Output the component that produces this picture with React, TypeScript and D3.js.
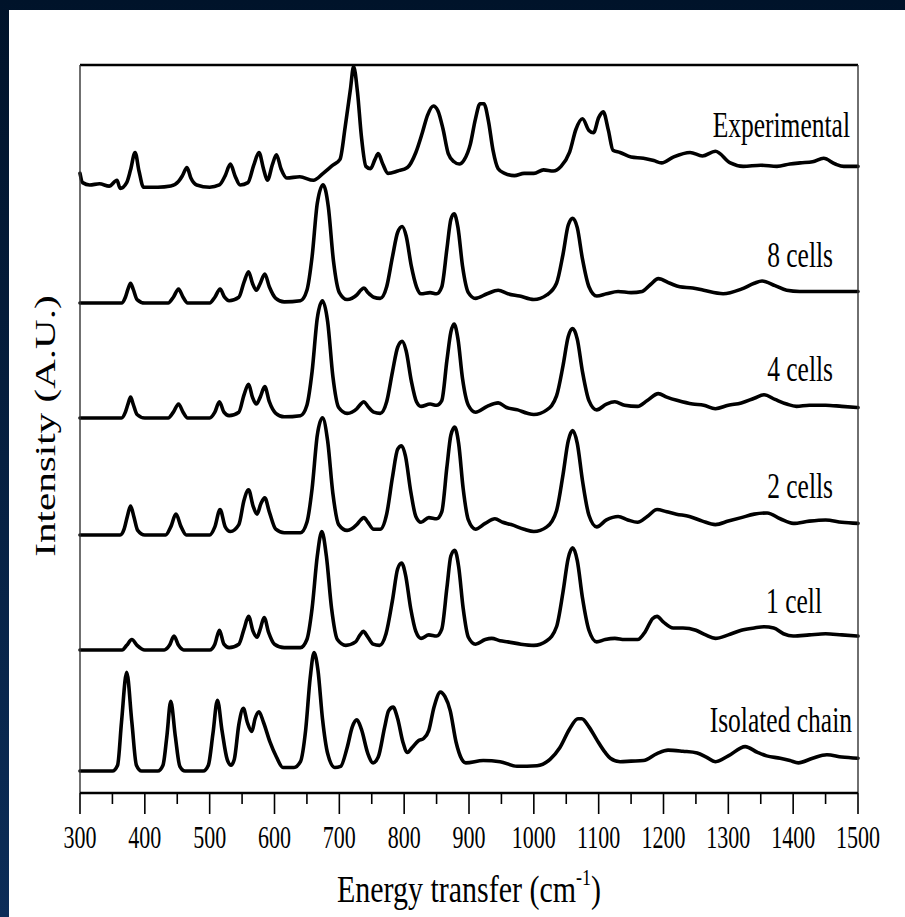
import React from 'react';
import * as d3 from 'd3';

type Pt = [number, number];

const xTickValues = [300, 400, 500, 600, 700, 800, 900, 1000, 1100, 1200, 1300, 1400, 1500];
const xMinorTicks = [350, 450, 550, 650, 750, 850, 950, 1050, 1150, 1250, 1350, 1450];

const seriesLabels = ['Isolated chain', '1 cell', '2 cells', '4 cells', '8 cells', 'Experimental'];
const seriesOffsets = [0, 1.043, 2.034, 3.043, 4.034, 5.052];

const isolatedChain: Pt[] = [
  [300,0],[350,0],[358,0.05],[364,0.42],[372,0.85],[380,0.42],[387,0.05],[395,0],[420,0],[428,0.05],[434,0.3],[440,0.6],[447,0.3],[454,0.04],[462,0],[490,0],[498,0.05],[505,0.32],[512,0.61],[519,0.35],[527,0.1],[533,0.05],[538,0.1],[545,0.4],[552,0.54],[558,0.42],[565,0.34],[570,0.45],[576,0.51],[583,0.42],[593,0.25],[603,0.12],[613,0.03],[630,0.03],[640,0.08],[648,0.35],[655,0.8],[661,1.02],[667,0.87],[674,0.45],[682,0.15],[693,0.03],[702,0.04],[712,0.2],[720,0.38],[727,0.44],[734,0.36],[744,0.15],[752,0.07],[760,0.12],[770,0.38],[776,0.52],[783,0.55],[790,0.45],[798,0.25],[805,0.16],[812,0.2],[822,0.26],[830,0.28],[838,0.35],[846,0.55],[856,0.68],[863,0.64],[871,0.52],[880,0.25],[889,0.1],[895,0.07],[922,0.09],[948,0.08],[974,0.04],[1005,0.045],[1025,0.1],[1040,0.2],[1055,0.36],[1068,0.45],[1074,0.45],[1085,0.38],[1097,0.27],[1110,0.16],[1118,0.11],[1133,0.08],[1150,0.085],[1169,0.09],[1190,0.15],[1207,0.18],[1230,0.17],[1252,0.155],[1266,0.12],[1280,0.08],[1300,0.13],[1326,0.21],[1345,0.16],[1359,0.13],[1380,0.11],[1395,0.09],[1408,0.07],[1430,0.11],[1452,0.14],[1475,0.12],[1500,0.11]
];

const oneCell: Pt[] = [
  [300,0],[365,0],[372,0.04],[380,0.09],[388,0.04],[400,0],[430,0],[438,0.04],[445,0.12],[452,0.04],[460,0],[500,0],[508,0.05],[515,0.17],[522,0.05],[530,0.02],[545,0.05],[553,0.18],[560,0.29],[567,0.16],[573,0.11],[578,0.18],[584,0.28],[591,0.15],[600,0.05],[615,0.02],[640,0.02],[650,0.09],[658,0.36],[666,0.81],[673,1.02],[680,0.81],[688,0.36],[697,0.09],[710,0.04],[725,0.07],[732,0.13],[737,0.16],[743,0.12],[752,0.05],[762,0.04],[772,0.14],[782,0.43],[790,0.7],[796,0.75],[802,0.65],[810,0.36],[818,0.16],[826,0.1],[838,0.13],[850,0.12],[858,0.18],[866,0.54],[872,0.81],[878,0.86],[884,0.72],[891,0.36],[899,0.11],[910,0.05],[925,0.09],[935,0.1],[948,0.08],[960,0.07],[980,0.05],[1000,0.04],[1020,0.08],[1035,0.2],[1045,0.5],[1053,0.79],[1060,0.88],[1067,0.77],[1075,0.45],[1085,0.17],[1097,0.07],[1110,0.09],[1125,0.1],[1140,0.09],[1160,0.09],[1172,0.16],[1183,0.27],[1190,0.29],[1200,0.24],[1215,0.19],[1230,0.19],[1250,0.17],[1265,0.13],[1280,0.1],[1300,0.13],[1320,0.17],[1340,0.19],[1355,0.2],[1370,0.19],[1385,0.14],[1400,0.12],[1425,0.13],[1450,0.14],[1475,0.13],[1500,0.12]
];

const twoCells: Pt[] = [
  [300,0],[362,0],[368,0.05],[373,0.16],[378,0.25],[383,0.16],[389,0.04],[400,0],[432,0],[440,0.07],[448,0.18],[456,0.07],[464,0],[500,0],[508,0.07],[516,0.22],[524,0.07],[532,0.03],[545,0.09],[553,0.3],[560,0.39],[567,0.25],[573,0.18],[579,0.27],[585,0.32],[592,0.2],[602,0.05],[615,0.02],[640,0.02],[650,0.11],[658,0.4],[666,0.86],[674,1.01],[682,0.81],[690,0.36],[699,0.09],[712,0.04],[727,0.09],[733,0.13],[738,0.15],[744,0.11],[753,0.05],[763,0.05],[773,0.18],[782,0.5],[790,0.74],[796,0.77],[802,0.68],[810,0.38],[818,0.16],[826,0.11],[838,0.15],[850,0.14],[858,0.2],[866,0.59],[872,0.86],[878,0.93],[884,0.79],[891,0.4],[899,0.13],[910,0.05],[925,0.1],[940,0.14],[952,0.11],[965,0.09],[985,0.05],[1000,0.03],[1020,0.07],[1035,0.21],[1045,0.52],[1053,0.81],[1060,0.9],[1067,0.79],[1075,0.47],[1085,0.17],[1097,0.07],[1112,0.13],[1130,0.16],[1145,0.13],[1160,0.11],[1175,0.16],[1190,0.22],[1205,0.2],[1220,0.18],[1240,0.16],[1260,0.12],[1280,0.09],[1300,0.12],[1320,0.15],[1340,0.18],[1360,0.19],[1380,0.14],[1400,0.1],[1425,0.12],[1450,0.13],[1475,0.11],[1500,0.1]
];

const fourCells: Pt[] = [
  [300,0],[364,0],[370,0.05],[374,0.12],[378,0.18],[382,0.12],[388,0.03],[400,0],[436,0],[444,0.05],[452,0.12],[459,0.05],[466,0],[500,0],[508,0.05],[515,0.14],[522,0.05],[530,0.02],[545,0.05],[553,0.2],[560,0.29],[566,0.18],[572,0.12],[578,0.18],[585,0.27],[592,0.14],[602,0.04],[615,0.01],[640,0.02],[650,0.11],[658,0.4],[666,0.86],[674,1.01],[682,0.83],[690,0.36],[699,0.09],[712,0.04],[727,0.08],[733,0.12],[738,0.14],[744,0.1],[753,0.05],[763,0.04],[773,0.14],[782,0.4],[790,0.61],[797,0.66],[803,0.58],[811,0.32],[819,0.14],[826,0.1],[840,0.12],[850,0.11],[858,0.15],[866,0.5],[872,0.74],[877,0.81],[883,0.68],[890,0.34],[899,0.11],[910,0.05],[928,0.1],[945,0.13],[958,0.09],[975,0.07],[990,0.04],[1000,0.03],[1020,0.07],[1035,0.19],[1045,0.45],[1053,0.7],[1060,0.77],[1067,0.68],[1075,0.4],[1085,0.15],[1097,0.07],[1112,0.12],[1125,0.14],[1140,0.11],[1160,0.1],[1175,0.15],[1192,0.21],[1205,0.18],[1222,0.15],[1245,0.12],[1262,0.11],[1280,0.08],[1300,0.11],[1320,0.13],[1340,0.17],[1355,0.2],[1372,0.16],[1390,0.12],[1405,0.1],[1425,0.11],[1450,0.11],[1475,0.1],[1500,0.09]
];

const eightCells: Pt[] = [
  [300,0],[364,0],[370,0.05],[374,0.12],[378,0.17],[382,0.12],[388,0.03],[400,0],[436,0],[444,0.05],[452,0.12],[459,0.05],[466,0],[500,0],[508,0.05],[516,0.12],[523,0.05],[530,0.02],[545,0.05],[553,0.18],[560,0.27],[566,0.17],[572,0.11],[578,0.17],[585,0.25],[592,0.14],[602,0.04],[615,0.01],[640,0.02],[650,0.11],[658,0.4],[666,0.86],[675,1.02],[683,0.83],[691,0.36],[700,0.09],[712,0.03],[727,0.07],[733,0.11],[738,0.13],[744,0.09],[753,0.05],[763,0.04],[773,0.14],[782,0.4],[790,0.61],[797,0.66],[803,0.58],[811,0.32],[819,0.14],[826,0.08],[840,0.09],[850,0.08],[858,0.14],[866,0.47],[872,0.72],[877,0.77],[883,0.65],[890,0.32],[899,0.09],[910,0.04],[928,0.08],[945,0.11],[960,0.08],[978,0.06],[1000,0.03],[1020,0.07],[1035,0.17],[1045,0.42],[1053,0.67],[1060,0.73],[1067,0.65],[1075,0.38],[1085,0.14],[1097,0.06],[1112,0.08],[1130,0.1],[1150,0.09],[1167,0.1],[1180,0.16],[1192,0.21],[1210,0.17],[1225,0.14],[1245,0.13],[1262,0.11],[1292,0.08],[1320,0.12],[1340,0.17],[1352,0.19],[1372,0.15],[1390,0.11],[1410,0.1],[1450,0.1],[1500,0.1]
];

const experimental: Pt[] = [
  [300,0.1],[304,0.02],[315,0.0],[330,0.01],[345,-0.01],[357,0.04],[362,-0.03],[372,0.02],[378,0.13],[385,0.28],[391,0.12],[398,-0.02],[420,-0.02],[440,-0.01],[452,0.03],[458,0.08],[465,0.15],[471,0.06],[480,0.0],[500,-0.02],[515,0.0],[524,0.08],[532,0.18],[539,0.08],[547,0.0],[559,0.02],[568,0.17],[576,0.28],[583,0.14],[589,0.04],[597,0.18],[603,0.26],[610,0.14],[619,0.06],[639,0.07],[660,0.04],[675,0.1],[690,0.17],[701,0.22],[709,0.5],[717,0.82],[722,1.02],[728,0.8],[734,0.42],[741,0.16],[748,0.14],[755,0.22],[760,0.27],[767,0.18],[775,0.1],[790,0.12],[805,0.15],[818,0.28],[828,0.45],[836,0.6],[845,0.68],[852,0.64],[860,0.48],[868,0.27],[877,0.2],[885,0.18],[893,0.22],[902,0.35],[910,0.57],[917,0.7],[923,0.7],[930,0.55],[937,0.3],[945,0.14],[955,0.1],[970,0.08],[985,0.1],[1000,0.1],[1015,0.13],[1030,0.12],[1042,0.16],[1055,0.28],[1065,0.48],[1075,0.57],[1085,0.47],[1092,0.45],[1100,0.58],[1107,0.63],[1115,0.47],[1122,0.3],[1133,0.28],[1150,0.24],[1169,0.23],[1185,0.21],[1197,0.19],[1215,0.24],[1241,0.28],[1260,0.25],[1280,0.29],[1303,0.19],[1323,0.16],[1350,0.17],[1375,0.16],[1395,0.18],[1411,0.19],[1430,0.2],[1447,0.23],[1465,0.18],[1478,0.16],[1500,0.16]
];

const allSeries: Pt[][] = [isolatedChain, oneCell, twoCells, fourCells, eightCells, experimental];

const W = 905;
const H = 917;
const FONT = '"Liberation Serif", "DejaVu Serif", serif';
const STRETCH = 1.37;

export default function App() {
  const x = d3.scaleLinear().domain([300, 1500]).range([80, 858]);
  const y = d3.scaleLinear().domain([-0.19, 6.086]).range([793, 65]);
  const labelRight = [852, 822, 833, 833, 833, 850];
  const labelRise = [39, 37, 37, 37, 36, 48];

  return (
    <div style={{ position: 'absolute', left: 0, top: 0 }}>
      <svg width={W} height={H} style={{ display: 'block' }}>
        <defs>
          <linearGradient id="bg" x1="0" y1="0" x2="0" y2="1">
            <stop offset="0" stopColor="#00132a" />
            <stop offset="1" stopColor="#0c2d58" />
          </linearGradient>
        </defs>
        <rect x={0} y={0} width={W} height={H} fill="url(#bg)" />
        <rect x={9} y={10} width={W - 9} height={H - 10} fill="#ffffff" />

        {allSeries.map((s, i) => {
          const off = seriesOffsets[i];
          const line = d3
            .line<Pt>()
            .x((d) => x(d[0]))
            .y((d) => y(d[1] + off))
            .curve(d3.curveMonotoneX);
          return (
            <path
              key={i}
              d={line(s) || ''}
              fill="none"
              stroke="#000"
              strokeWidth={3.6}
              strokeLinejoin="round"
              strokeLinecap="round"
            />
          );
        })}

        <line x1={80} x2={858} y1={65} y2={65} stroke="#000" strokeWidth={2.6} />
        <line x1={80} x2={80} y1={65} y2={793} stroke="#333" strokeWidth={1.4} />
        <line x1={858} x2={858} y1={65} y2={793} stroke="#333" strokeWidth={1.4} />
        <line x1={80} x2={858} y1={793} y2={793} stroke="#000" strokeWidth={2.4} />

        {xTickValues.map((t) => (
          <line key={'M' + t} x1={x(t)} x2={x(t)} y1={793} y2={814} stroke="#000" strokeWidth={1.6} />
        ))}
        {xMinorTicks.map((t) => (
          <line key={'m' + t} x1={x(t)} x2={x(t)} y1={793} y2={804} stroke="#000" strokeWidth={1.6} />
        ))}
        {xTickValues.map((t) => (
          <text
            key={'L' + t}
            transform={`translate(${x(t)},848) scale(1,1.45)`}
            textAnchor="middle"
            fontFamily={FONT}
            fontSize={22}
            fill="#000"
          >
            {t}
          </text>
        ))}

        <text
          transform={`translate(469,902) scale(1,1.25)`}
          textAnchor="middle"
          fontFamily={FONT}
          fontSize={30}
          fill="#000"
        >
          Energy transfer (cm
          <tspan fontSize={18} dy={-14}>-1</tspan>
          <tspan dy={14}>)</tspan>
        </text>

        <text
          transform={`translate(55,426) rotate(-90) scale(${STRETCH},1)`}
          textAnchor="middle"
          fontFamily={FONT}
          fontSize={30}
          fill="#000"
        >
          Intensity (A.U.)
        </text>

        {seriesLabels.map((lab, i) => (
          <text
            key={lab}
            transform={`translate(${labelRight[i]},${y(seriesOffsets[i]) - labelRise[i]}) scale(1,${STRETCH})`}
            textAnchor="end"
            fontFamily={FONT}
            fontSize={25.5}
            fill="#000"
          >
            {lab}
          </text>
        ))}
      </svg>
    </div>
  );
}
